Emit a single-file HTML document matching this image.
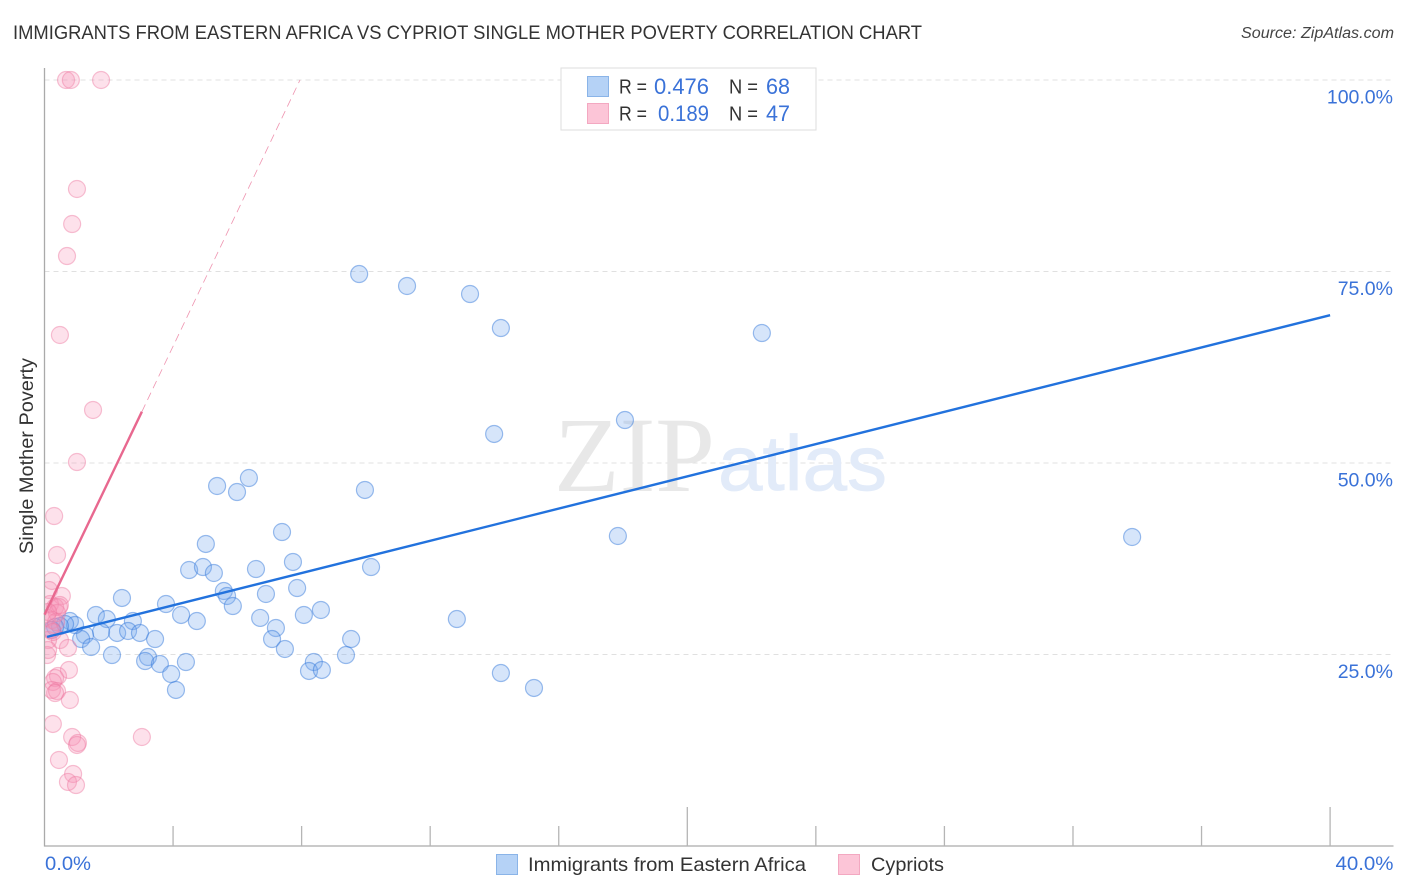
<!DOCTYPE html>
<html lang="en">
<head>
<meta charset="utf-8">
<title>Immigrants from Eastern Africa vs Cypriot Single Mother Poverty Correlation Chart</title>
<style>
html,body{margin:0;padding:0;background:#fff;width:1406px;height:892px;overflow:hidden}
svg{display:block;font-family:"Liberation Sans",sans-serif}
</style>
</head>
<body>
<svg id="chart" xmlns="http://www.w3.org/2000/svg" width="1406" height="892" viewBox="0 0 1406 892">
<defs><clipPath id="plot-clip"><rect x="45" y="60" width="1350" height="786"/></clipPath></defs>
<text x="13" y="39" font-size="19" fill="#333" textLength="909" lengthAdjust="spacingAndGlyphs">IMMIGRANTS FROM EASTERN AFRICA VS CYPRIOT SINGLE MOTHER POVERTY CORRELATION CHART</text>
<text x="1394" y="38" font-size="15.5" font-style="italic" fill="#444" text-anchor="end" textLength="153" lengthAdjust="spacingAndGlyphs">Source: ZipAtlas.com</text>
<g id="grid"></g>
<g>
<text x="554" y="491" font-family="'Liberation Serif',serif" font-size="107" fill="#e8e8e8" textLength="161" lengthAdjust="spacingAndGlyphs">ZIP</text>
<text x="718" y="490" font-family="'Liberation Sans',sans-serif" font-size="78" fill="#e2ebf9" stroke="#e2ebf9" stroke-width="0.8" textLength="169" lengthAdjust="spacingAndGlyphs">atlas</text>
</g>
<g id="axes"></g>
<g id="blue-points" clip-path="url(#plot-clip)"></g>
<g id="pink-points" clip-path="url(#plot-clip)"></g>
<g id="trends"></g>
<g id="ticks-text"></g>
<text transform="translate(33,456) rotate(-90)" font-size="19" fill="#333" text-anchor="middle" textLength="196" lengthAdjust="spacingAndGlyphs">Single Mother Poverty</text>
<g>
<rect x="561" y="68" width="255" height="62" fill="#fff" stroke="#ddd" stroke-width="1"/>
<rect x="587.5" y="76.5" width="21" height="20" fill="#b5d2f6" stroke="#8ab4e8"/>
<rect x="587.5" y="103.5" width="21" height="20" fill="#fcc5d7" stroke="#f3a8c1"/>
<g font-size="20" fill="#333">
<text x="619" y="93.5" textLength="28" lengthAdjust="spacingAndGlyphs">R =</text>
<text x="619" y="120.5" textLength="28" lengthAdjust="spacingAndGlyphs">R =</text>
<text x="729" y="93.5" textLength="29" lengthAdjust="spacingAndGlyphs">N =</text>
<text x="729" y="120.5" textLength="29" lengthAdjust="spacingAndGlyphs">N =</text>
</g>
<g font-size="22" fill="#3a72d8">
<text x="654" y="94" textLength="55" lengthAdjust="spacingAndGlyphs">0.476</text>
<text x="658" y="121" textLength="51" lengthAdjust="spacingAndGlyphs">0.189</text>
<text x="766" y="94" textLength="24" lengthAdjust="spacingAndGlyphs">68</text>
<text x="766" y="121" textLength="24" lengthAdjust="spacingAndGlyphs">47</text>
</g>
</g>
<g>
<rect x="496.5" y="854.5" width="21" height="20" fill="#b5d2f6" stroke="#8ab4e8"/>
<text x="528" y="871" font-size="19.5" fill="#333" textLength="278" lengthAdjust="spacingAndGlyphs">Immigrants from Eastern Africa</text>
<rect x="838.5" y="854.5" width="21" height="20" fill="#fcc5d7" stroke="#f3a8c1"/>
<text x="871" y="871" font-size="19.5" fill="#333" textLength="73" lengthAdjust="spacingAndGlyphs">Cypriots</text>
</g>
</svg>
<script>
var blueX = [9.79,11.28,13.24,14.2,22.32,13.99,18.06,5.37,5.99,6.36,9.97,7.39,5.02,7.73,17.84,33.84,4.5,4.93,5.27,6.58,10.16,5.58,5.68,5.86,6.89,7.86,2.41,3.78,4.25,4.74,6.71,8.07,8.6,12.83,1.6,1.94,2.75,2.26,2.6,2.97,3.44,1.76,7.2,7.08,9.54,1.26,1.14,1.45,2.1,7.48,9.38,3.22,3.13,3.59,4.4,8.38,3.94,4.09,8.23,8.63,14.2,15.23,0.79,0.95,0.64,0.48,0.33,0.23];
var blueY = [74.67,73.11,72.06,67.62,66.97,53.79,55.61,47,46.21,48.04,46.48,40.99,39.43,37.08,40.47,40.34,36.03,36.42,35.64,36.16,36.42,33.29,32.64,31.33,32.9,33.68,32.38,31.59,30.16,29.37,29.77,30.16,30.81,29.63,30.16,29.63,29.37,27.81,28.07,27.81,27.02,27.94,28.46,27.02,27.02,27.55,27.02,25.98,24.93,25.72,24.93,24.67,24.15,23.76,24.02,24.02,22.45,20.37,22.85,22.98,22.58,20.63,29.37,28.85,28.98,28.72,28.59,28.2];
var pinkX = [0.67,0.82,1.76,1.01,0.86,0.7,0.48,1.51,1.01,0.3,0.39,0.23,0.14,0.54,0.17,0.33,0.45,0.08,0.23,0.39,0.17,0.36,0.48,0.11,0.26,0.73,0.08,0.11,0.76,0.42,0.33,0.26,0.23,0.39,0.33,0.79,0.26,0.86,1.04,1.01,3.03,0.45,0.89,0.73,0.98,0.48,0.11];
var pinkY = [100,100,100,85.77,81.2,77.02,66.71,56.92,50.13,43.08,37.99,34.6,33.42,32.64,31.59,31.2,31.2,29.77,29.5,30.42,28.2,29.24,26.89,26.89,27.94,25.85,24.93,25.59,22.98,22.19,21.93,21.41,20.37,20.23,19.97,19.06,15.93,14.23,13.45,13.19,14.23,11.23,9.4,8.36,7.96,31.46,30.55];
var blueTrendX = [0.08,40];
var blueTrendY = [27.3,69.3];
var pinkTrendX = [0,3.03];
var pinkTrendY = [30.2,56.7];
var pinkDashX = [3.03,7.95];
var pinkDashY = [56.7,100];
var yTicks = [25,50,75,100];
var yTickLabels = ["25.0%","50.0%","75.0%","100.0%"];
var xTicks = [4,8,12,16,20,24,28,32,36,40];
var xTallTicks = [20,40];
var xEndTicks = [0,40];
var xEndLabels = ["0.0%","40.0%"];

var NS = "http://www.w3.org/2000/svg";
function sx(v){ return 44.5 + v * 32.14; }
function sy(v){ return 846 - v * 7.66; }
function make(tag, attrs, parent){
  var el = document.createElementNS(NS, tag);
  for (var k in attrs) el.setAttribute(k, attrs[k]);
  parent.appendChild(el);
  return el;
}
var grid = document.getElementById("grid");
var axes = document.getElementById("axes");
var bluePts = document.getElementById("blue-points");
var pinkPts = document.getElementById("pink-points");
var trends = document.getElementById("trends");
var ticksText = document.getElementById("ticks-text");

yTicks.forEach(function(v, i){
  var g = make("line", {x1:44.5, x2:1393, y1:sy(v), y2:sy(v), stroke:"#e0e0e0", "stroke-width":1, "stroke-dasharray":"5 4"}, grid);
  
  
  var t = make("text", {x:1393, y:sy(v)+23.5, "font-size":19.5, fill:"#3a72d8", "text-anchor":"end"}, ticksText);
  t.textContent = yTickLabels[i];
  
  
});

var yAxis = make("line", {x1:44.5, x2:44.5, y1:68, y2:846.5, stroke:"#aaa", "stroke-width":1.3}, axes);


var xAxis = make("line", {x1:44, x2:1393.5, y1:846, y2:846, stroke:"#aaa", "stroke-width":1.3}, axes);


xTicks.forEach(function(v){
  var top = xTallTicks.indexOf(v) >= 0 ? 807 : 826;
  var tk = make("line", {x1:sx(v), x2:sx(v), y1:top, y2:846, stroke:"#b5b5b5", "stroke-width":1.3}, axes);
  
  
});
xEndTicks.forEach(function(v, i){
  var t = make("text", {x: i === 0 ? 45 : 1393.5, y:870, "font-size":19.5, fill:"#3a72d8", "text-anchor": i === 0 ? "start" : "end", textLength: i === 0 ? 46 : 58, lengthAdjust:"spacingAndGlyphs"}, ticksText);
  t.textContent = xEndLabels[i];
  
  
});

blueX.forEach(function(v, i){
  var c = make("circle", {cx:sx(v), cy:sy(blueY[i]), r:8.5, fill:"rgba(120,170,238,0.3)", stroke:"rgba(50,120,218,0.48)", "stroke-width":1.2}, bluePts);
  
  
});
pinkX.forEach(function(v, i){
  var c = make("circle", {cx:sx(v), cy:sy(pinkY[i]), r:8.5, fill:"rgba(246,145,180,0.27)", stroke:"rgba(238,120,160,0.45)", "stroke-width":1.2}, pinkPts);
  
  
});

var pd = make("line", {x1:sx(pinkDashX[0]), y1:sy(pinkDashY[0]), x2:sx(pinkDashX[1]), y2:sy(pinkDashY[1]), stroke:"#e8688f", "stroke-width":0.8, "stroke-dasharray":"8 5", opacity:0.7}, trends);


var pt = make("line", {x1:sx(pinkTrendX[0]), y1:sy(pinkTrendY[0]), x2:sx(pinkTrendX[1]), y2:sy(pinkTrendY[1]), stroke:"#e8688f", "stroke-width":2.4}, trends);


var bt = make("line", {x1:sx(blueTrendX[0]), y1:sy(blueTrendY[0]), x2:sx(blueTrendX[1]), y2:sy(blueTrendY[1]), stroke:"#2272dd", "stroke-width":2.4}, trends);


</script>
</body>
</html>
